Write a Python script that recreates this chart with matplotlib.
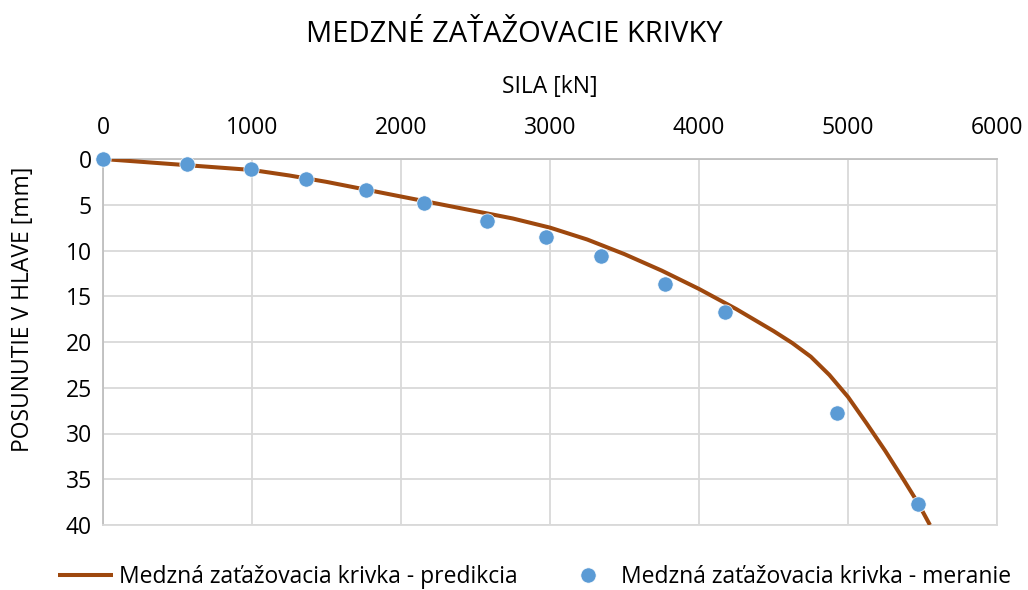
import matplotlib

matplotlib.use("Agg")
import matplotlib.pyplot as plt

plt.rcParams["font.family"] = ["Open Sans", "DejaVu Sans"]

# predikcia - medzna zatazovacia krivka (odcitane z grafu)
pred_sila = [0, 250, 500, 750, 1000, 1250, 1500, 1750, 2000, 2250, 2500, 2750,
             3000, 3250, 3500, 3750, 4000, 4250, 4500, 4625, 4750, 4875, 5000,
             5125, 5250, 5375, 5470, 5550]
pred_posun = [0, 0.3, 0.6, 0.9, 1.2, 1.8, 2.5, 3.3, 4.1, 4.9, 5.7, 6.5,
              7.5, 8.8, 10.4, 12.2, 14.2, 16.4, 18.8, 20.1, 21.6, 23.6, 26.0,
              28.9, 31.9, 35.1, 37.6, 40.0]

# meranie
mer_sila = [0, 564, 993, 1362, 1765, 2154, 2577, 2973, 3342, 3772, 4174,
            4926, 5470]
mer_posun = [0, 0.55, 1.1, 2.2, 3.4, 4.8, 6.8, 8.5, 10.6, 13.7, 16.7,
             27.8, 37.7]

x_ticks = [0, 1000, 2000, 3000, 4000, 5000, 6000]
y_ticks = [0, 5, 10, 15, 20, 25, 30, 35, 40]

W, H = 1028, 590
fig = plt.figure(figsize=(W / 100, H / 100), dpi=100)
ax = fig.add_axes([103 / W, 1 - 525 / H, (997 - 103) / W, (525 - 159) / H])

line, = ax.plot(pred_sila, pred_posun, color="#9e480e", lw=2.9, zorder=3,
                solid_capstyle="butt", solid_joinstyle="round")
pts, = ax.plot(mer_sila, mer_posun, "o", color="#5b9bd5", ms=11, mec="white",
               mew=0.5, zorder=4, clip_on=False)

ax.set_xlim(0, 6000)
ax.set_ylim(40, 0)
ax.set_xticks(x_ticks)
ax.set_yticks(y_ticks)
ax.xaxis.tick_top()
ax.xaxis.set_label_position("top")
ax.tick_params(length=0, labelsize=16.5, colors="#000000")
ax.tick_params(axis="x", pad=14)
ax.tick_params(axis="y", pad=8)
ax.grid(True, color="#d9d9d9", lw=1.3, zorder=0)
for s in ["bottom", "right"]:
    ax.spines[s].set_color("#d9d9d9")
    ax.spines[s].set_linewidth(1.3)
for s in ["top", "left"]:
    ax.spines[s].set_color("#bfbfbf")
    ax.spines[s].set_linewidth(1.3)

ax.set_xlabel("SILA [kN]", fontsize=16.5, va="center")
ax.xaxis.set_label_coords(0.5, (525 - 87) / 366)
ax.set_ylabel("POSUNUTIE V HLAVE [mm]", fontsize=16.5, va="center")
ax.yaxis.set_label_coords((23 - 103) / 894, (525 - 309) / 366)
fig.text(0.5, 1 - 35 / H, "MEDZNÉ ZAŤAŽOVACIE KRIVKY", fontsize=21,
         ha="center", va="center")

leg_kw = dict(frameon=False, fontsize=16.5, loc="center left", borderpad=0,
              borderaxespad=0, handlelength=2.4, handletextpad=0.25)
fig.legend([line], ["Medzná zaťažovacia krivka - predikcia"],
           bbox_to_anchor=(58 / W, 1 - 577 / H), **leg_kw)
fig.legend([pts], ["Medzná zaťažovacia krivka - meranie"],
           bbox_to_anchor=(560 / W, 1 - 577 / H), **leg_kw)

fig.savefig("out.png", dpi=100)
